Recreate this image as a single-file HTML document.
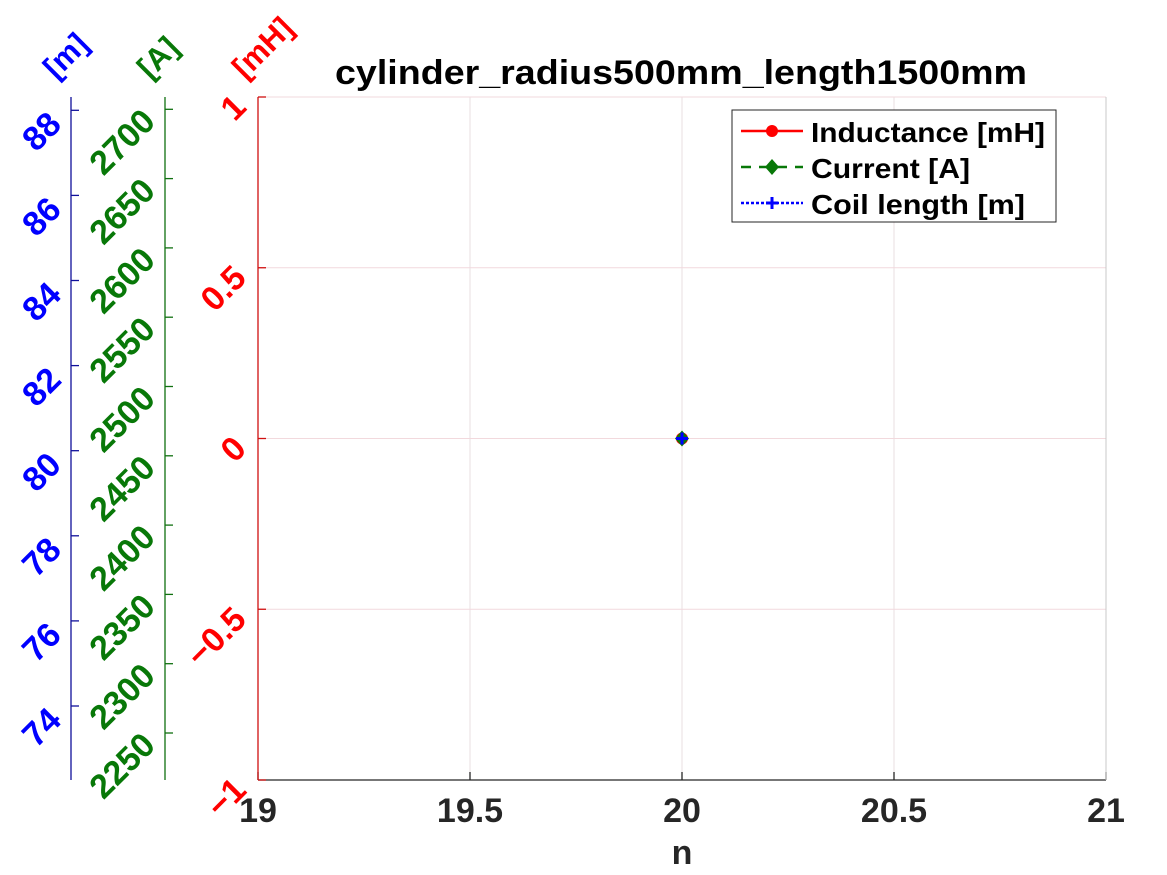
<!DOCTYPE html>
<html><head><meta charset="utf-8"><style>
body{margin:0;background:#fff;}
svg{display:block;font-family:"Liberation Sans","DejaVu Sans",sans-serif;font-weight:bold;}
</style></head><body>
<svg id="chart" width="1167" height="875" xmlns="http://www.w3.org/2000/svg">
<rect width="1167" height="875" fill="#fff"/>
<g id="g"></g>
</svg>
<script>
const xTicks=[19,19.5,20,20.5,21];
const yTicks=[-1,-0.5,0,0.5,1];
const yTickLabels=["\u22121","\u22120.5","0","0.5","1"];
const aTicks=[2250,2300,2350,2400,2450,2500,2550,2600,2650,2700];
const mTicks=[74,76,78,80,82,84,86,88];
const nVals=[20];
const indVals=[0];
const curVals=[0];
const lenVals=[0];
const L=258,R=1106,T=97,B=780;
const X=v=>L+(v-19)/2*(R-L);
const Y=v=>B-(v+1)/2*(B-T);
const YA=v=>733-(v-2250)/50*69.3;
const YM=v=>706-(v-74)/2*85.1;
const ns="http://www.w3.org/2000/svg";
const g=document.getElementById('g');
function mk(t,a,txt){const e=document.createElementNS(ns,t);for(const k in a)e.setAttribute(k,a[k]);if(txt!==undefined)e.textContent=txt;g.appendChild(e);return e;}
xTicks.forEach(v=>{
const e=mk('line',{x1:X(v),x2:X(v),y1:T,y2:B,stroke:'#eadfe2','stroke-width':1});


const tk=mk('line',{x1:X(v),x2:X(v),y1:B-8,y2:B,stroke:'#262626','stroke-width':1.3});


});
yTicks.forEach(v=>{
const e=mk('line',{x1:L,x2:R,y1:Y(v),y2:Y(v),stroke:'#f2d9dd','stroke-width':1});


});
let e=mk('line',{x1:L,x2:R,y1:B,y2:B,stroke:'#262626','stroke-width':1.3});


e=mk('line',{x1:R,x2:R,y1:T,y2:B,stroke:'#c8c8c8','stroke-width':1});


e=mk('line',{x1:L,x2:L,y1:T,y2:B,stroke:'#d01010','stroke-width':1.3});


xTicks.forEach(v=>{
const t=mk('text',{x:X(v),y:822,'text-anchor':'middle','font-size':34,fill:'#262626'},String(v));


});
yTicks.forEach((v,i)=>{
const y=Y(v);
const tk=mk('line',{x1:L,x2:L+8,y1:y,y2:y,stroke:'#d01010','stroke-width':1.3});


const t=mk('text',{x:0,y:0,'text-anchor':'end','font-size':34,fill:'#f00',transform:`translate(${L-10},${y+12}) rotate(-45)`},yTickLabels[i]);


});
e=mk('line',{x1:165,x2:165,y1:97,y2:780,stroke:'#107010','stroke-width':1.3});


aTicks.forEach(v=>{
const y=YA(v);
const tk=mk('line',{x1:165,x2:173,y1:y,y2:y,stroke:'#107010','stroke-width':1.3});


const t=mk('text',{x:0,y:0,'text-anchor':'end','font-size':34,fill:'#087808',transform:`translate(157,${y+14}) rotate(-45)`},String(v));


});
e=mk('line',{x1:71,x2:71,y1:97,y2:780,stroke:'#10109a','stroke-width':1.3});


mTicks.forEach(v=>{
const y=YM(v);
const tk=mk('line',{x1:71,x2:79,y1:y,y2:y,stroke:'#10109a','stroke-width':1.3});


const t=mk('text',{x:0,y:0,'text-anchor':'end','font-size':34,fill:'#00f',transform:`translate(63,${y+16}) rotate(-45)`},String(v));


});
[['[m]',56,'#00f','length-unit'],['[A]',150,'#087808','current-unit'],['[mH]',245,'#f00','inductance-unit']].forEach(a=>{
const t=mk('text',{x:0,y:0,'font-size':31,fill:a[2],transform:`translate(${a[1]},${80}) rotate(-45)`},a[0]);


});
e=mk('text',{x:335,y:84,'font-size':34,fill:'#000',textLength:692,lengthAdjust:'spacingAndGlyphs'},'cylinder_radius500mm_length1500mm');


e=mk('text',{x:682,y:864,'text-anchor':'middle','font-size':34,fill:'#262626'},'n');


nVals.forEach((n,i)=>{
const c=mk('circle',{cx:X(n),cy:Y(indVals[i]),r:6,fill:'#f00'});


});
nVals.forEach((n,i)=>{
const x=X(n),y=Y(curVals[i]);
const d=mk('polygon',{points:`${x},${y-8} ${x+7},${y} ${x},${y+8} ${x-7},${y}`,fill:'#087808'});


});
nVals.forEach((n,i)=>{
const x=X(n),y=Y(lenVals[i]);
const p=mk('path',{d:`M${x-6},${y}H${x+6}M${x},${y-6}V${y+6}`,stroke:'#00f','stroke-width':3});


});
const lg=mk('rect',{x:732,y:110,width:324,height:112,fill:'#fff',stroke:'#262626','stroke-width':1});


[['Inductance [mH]','#f00','','inductance',234],['Current [A]','#087808','10,8','current',159],['Coil length [m]','#00f','3,2','length',214]].forEach((a,i)=>{
const y=131+i*36;
const l=mk('line',{x1:741,x2:803,y1:y,y2:y,stroke:a[1],'stroke-width':2.5,'stroke-dasharray':a[2]});


if(i==0){mk('circle',{cx:772,cy:y,r:6,fill:a[1]});}
else if(i==1){mk('polygon',{points:`772,${y-8} 779,${y} 772,${y+8} 765,${y}`,fill:a[1]});}
else{mk('path',{d:`M766,${y}H778M772,${y-6}V${y+6}`,stroke:a[1],'stroke-width':3});}
const t=mk('text',{x:811,y:y+11,'font-size':28,fill:'#000',textLength:a[4],lengthAdjust:'spacingAndGlyphs'},a[0]);


});
</script>
</body></html>
